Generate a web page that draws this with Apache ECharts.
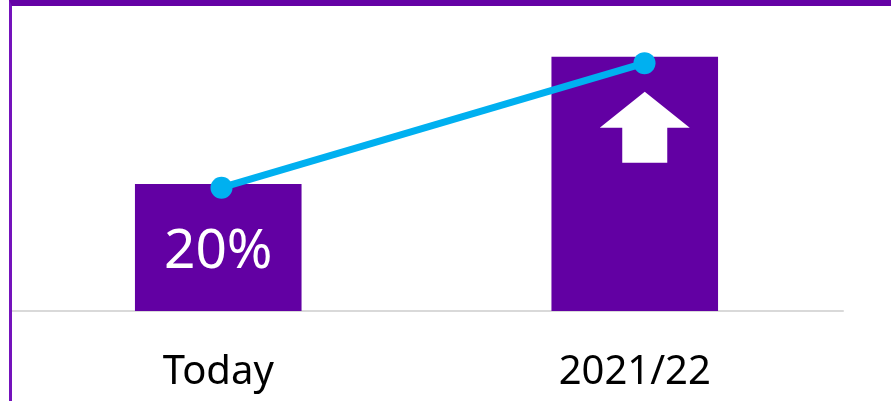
<!DOCTYPE html>
<html>
<head>
<meta charset="utf-8">
<script src="https://cdn.jsdelivr.net/npm/echarts@6/dist/echarts.min.js"></script>
<style>
  html, body { margin: 0; padding: 0; background: #fff; }
  #chart { position: absolute; left: 0; top: 0; width: 891px; height: 401px; }
  .frame {
    position: absolute; left: 9px; top: 0; right: 0; bottom: 0;
    border-top: 6px solid #6502a5;
    border-left: 3px solid #7412bc;
    pointer-events: none;
  }
</style>
</head>
<body>
<div id="chart"></div>
<div class="frame"></div>
<script>
// Data
const categories = ['Today', '2021/22']
const barValues = [20, 40]
const barLabels = ['20%', '']
const lineValues = [19.4, 39]
// up arrow marker sits inside the second bar
const arrowPoints = [['2021/22', 28.9]]

const arrowPath = 'path://M50,0 L100,40 L75,40 L75,79 L25,79 L25,40 L0,40 Z'

const chart = echarts.init(document.getElementById('chart'))

const option = {
  animation: false,
  grid: [
    { left: 10, right: 48, top: 25, bottom: 90 },
    { left: 10, right: 35, top: 25, bottom: 90 }
  ],
  xAxis: [
    {
      type: 'category',
      data: categories,
      gridIndex: 0,
      axisLine: { lineStyle: { color: '#d9d9d9', width: 2 } },
      axisTick: { show: false },
      axisLabel: {
        color: '#000',
        fontFamily: 'Noto Sans',
        fontSize: 40,
        margin: 42
      }
    },
    {
      type: 'category',
      data: categories,
      gridIndex: 1,
      show: false
    }
  ],
  yAxis: [
    { type: 'value', min: 0, max: 45, gridIndex: 0, show: false, splitLine: { show: false } },
    { type: 'value', min: 0, max: 45, gridIndex: 1, show: false, splitLine: { show: false } }
  ],
  series: [
    {
      type: 'bar',
      barWidth: '40%',
      itemStyle: { color: '#6200a3' },
      data: barValues.map((v, i) => ({
        value: v,
        label: {
          show: barLabels[i] !== '',
          position: 'inside',
          offset: [0, 5],
          formatter: barLabels[i],
          color: '#fff',
          fontFamily: 'Noto Sans',
          fontSize: 55
        }
      }))
    },
    {
      type: 'scatter',
      data: arrowPoints,
      symbol: arrowPath,
      symbolSize: [90, 71],
      symbolOffset: [10, 0],
      itemStyle: { color: '#fff', opacity: 1 },
      z: 3
    },
    {
      type: 'line',
      xAxisIndex: 1,
      yAxisIndex: 1,
      data: lineValues,
      symbol: 'circle',
      symbolSize: 22,
      lineStyle: { color: '#00b0f0', width: 7 },
      itemStyle: { color: '#00b0f0' },
      z: 4
    }
  ]
}

chart.setOption(option)
</script>
</body>
</html>
